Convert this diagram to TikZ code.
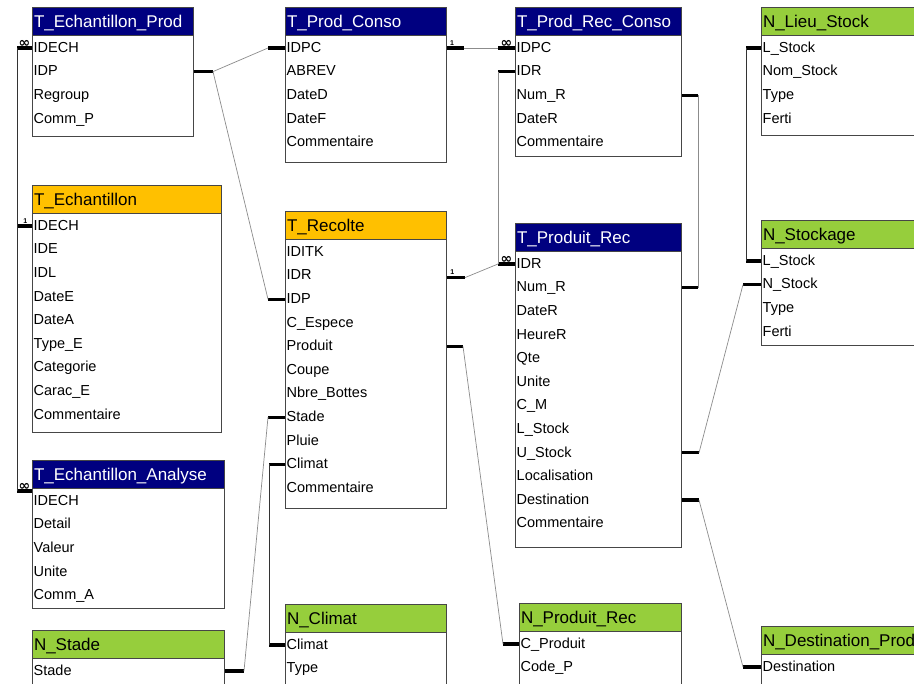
\documentclass[tikz,border=0pt]{standalone}
\usepackage{fontspec}
\setmainfont{Liberation Sans}
\newfontfamily\symbolfont{DejaVu Sans}
\usetikzlibrary{calc}
\definecolor{SchemaNavy}{RGB}{0,0,128}
\definecolor{SchemaGold}{RGB}{255,192,0}
\definecolor{SchemaLime}{RGB}{150,206,60}
\definecolor{SchemaBorder}{RGB}{70,70,70}
\definecolor{SchemaLink}{RGB}{140,140,140}

\begin{document}
\begin{tikzpicture}[x=1bp,y=-1bp,line join=miter]
  \path[use as bounding box] (0,0) rectangle (914,684);
  \clip (0,0) rectangle (914,684);
  \fill[white] (0,0) rectangle (914,684);

  \tikzset{
    tablebox/.style={draw=SchemaBorder,line width=1bp,fill=white,
      anchor=north west,inner sep=0pt},
    headbox/.style={draw=SchemaBorder,line width=1bp,anchor=north west,
      minimum height=28bp,inner xsep=1.5bp,inner ysep=0pt,align=left,
      text height=13bp,text depth=1bp,
      font=\fontsize{17bp}{17bp}\selectfont},
    field/.style={anchor=west,inner sep=0pt,text height=10.5bp,text depth=2bp,
      font=\fontsize{14.5bp}{14.5bp}\selectfont},
    stub/.style={line width=3.2bp,black,line cap=butt},
    link/.style={line width=0.7bp,SchemaLink},
    many/.style={anchor=base,inner sep=0pt,yshift=0.6bp,
      font=\symbolfont\bfseries\fontsize{14bp}{14bp}\selectfont},
    one/.style={anchor=base,inner sep=0pt,yshift=2.8bp,
      font=\bfseries\fontsize{7bp}{7bp}\selectfont},
  }

  % tables: name/x/y/width/height/header/header text/title/fields
  \foreach \tab/\x/\y/\w/\h/\hcol/\tcol/\title/\fields in {
    echprod/32/7/161/129/SchemaNavy/white/{T\_Echantillon\_Prod}/{IDECH,IDP,Regroup,Comm\_P},
    prodconso/285/7/161/155/SchemaNavy/white/{T\_Prod\_Conso}/{IDPC,ABREV,DateD,DateF,Commentaire},
    prodrecconso/515/7/166/149/SchemaNavy/white/{T\_Prod\_Rec\_Conso}/{IDPC,IDR,Num\_R,DateR,Commentaire},
    lieustock/761/7/170/128/SchemaLime/black/{N\_Lieu\_Stock}/{L\_Stock,Nom\_Stock,Type,Ferti},
    ech/32/185/189/247/SchemaGold/black/{T\_Echantillon}/{IDECH,IDE,IDL,DateE,DateA,Type\_E,Categorie,Carac\_E,Commentaire},
    recolte/285/211/161/297/SchemaGold/black/{T\_Recolte}/{IDITK,IDR,IDP,C\_Espece,Produit,Coupe,Nbre\_Bottes,Stade,Pluie,Climat,Commentaire},
    produitrec/515/223/166/324/SchemaNavy/white/{T\_Produit\_Rec}/{IDR,Num\_R,DateR,HeureR,Qte,Unite,C\_M,L\_Stock,U\_Stock,Localisation,Destination,Commentaire},
    stockage/761/220/170/125/SchemaLime/black/{N\_Stockage}/{L\_Stock,N\_Stock,Type,Ferti},
    echan/32/460/192/148/SchemaNavy/white/{T\_Echantillon\_Analyse}/{IDECH,Detail,Valeur,Unite,Comm\_A},
    stade/32/630/192/80/SchemaLime/black/{N\_Stade}/{Stade},
    climat/285/604/161/100/SchemaLime/black/{N\_Climat}/{Climat,Type},
    nproduitrec/519/603/162/100/SchemaLime/black/{N\_Produit\_Rec}/{C\_Produit,Code\_P},
    destination/761/626/170/80/SchemaLime/black/{N\_Destination\_Prod}/{Destination}} {
    \pgfmathsetmacro\tw{\w-3}
    \node[tablebox,minimum width=\w bp,minimum height=\h bp] (\tab) at (\x,\y) {};
    \node[headbox,fill=\hcol,text=\tcol,text width=\tw bp] (\tab-head)
      at (\tab.north west) {\title};
    \foreach \f [count=\i] in \fields {
      \pgfmathsetmacro\dy{12+(\i-1)*23.6}
      \node[field] (\tab-\i) at ([xshift=1.5bp,yshift=-\dy bp]\tab-head.south west) {\f};
    }
  }

  % IDECH
  \draw[stub] (echprod.west |- echprod-1) -- node[many] (echprod-1-m) {∞}
    ++(-15,0) coordinate (echprod-1-l);
  \draw[stub] (ech.west |- ech-1) -- node[one,pos=0.45] (ech-1-m) {1}
    ++(-15,0) coordinate (ech-1-l);
  \draw[stub] ($(echan.west |- echan-head.south)+(0,2)$) -- node[many] (echan-1-m) {∞}
    ++(-15,0) coordinate (echan-1-l);
  \draw[link,black!80] (ech-1-l) -- (echprod-1-l);
  \draw[link,black!80] (ech-1-l) -- (echan-1-l);

  % IDP
  \draw[stub] (echprod.east |- echprod-2) -- ++(19,0) coordinate (echprod-2-r);
  \draw[stub] (prodconso.west |- prodconso-1) -- ++(-17,0) coordinate (prodconso-1-l);
  \draw[stub] (recolte.west |- recolte-3) -- ++(-17,0) coordinate (recolte-3-l);
  \draw[link] (echprod-2-r) -- (prodconso-1-l);
  \draw[link] (echprod-2-r) -- (recolte-3-l);

  % IDPC
  \draw[stub] (prodconso.east |- prodconso-1) -- node[one,pos=0.3] (prodconso-1-m) {1}
    ++(17,0) coordinate (prodconso-1-r);
  \draw[stub] (prodrecconso.west |- prodrecconso-1) -- node[many] (prodrecconso-1-m) {∞}
    ++(-17,0) coordinate (prodrecconso-1-l);
  \draw[link] (prodconso-1-r) -- (prodrecconso-1-l);

  % IDR
  \draw[stub] (prodrecconso.west |- prodrecconso-2) -- ++(-17,0) coordinate (prodrecconso-2-l);
  \draw[stub] (produitrec.west |- produitrec-1) -- node[many] (produitrec-1-m) {∞}
    ++(-17,0) coordinate (produitrec-1-l);
  \draw[stub] ($(recolte.east |- recolte-2)+(0,2)$) -- node[one,pos=0.3] (recolte-2-m) {1}
    ++(18,0) coordinate (recolte-2-r);
  \draw[link] (prodrecconso-2-l) -- (produitrec-1-l);
  \draw[link] (recolte-2-r) -- (produitrec-1-l);

  % Num_R
  \draw[stub] (prodrecconso.east |- prodrecconso-3) -- ++(16,0) coordinate (prodrecconso-3-r);
  \draw[stub] (produitrec.east |- produitrec-2) -- ++(16,0) coordinate (produitrec-2-r);
  \draw[link] (prodrecconso-3-r) -- (produitrec-2-r);

  % L_Stock
  \draw[stub] (lieustock.west |- lieustock-1) -- ++(-15,0) coordinate (lieustock-1-l);
  \draw[stub] (stockage.west |- stockage-1) -- ++(-15,0) coordinate (stockage-1-l);
  \draw[link,black!80] (lieustock-1-l) -- (stockage-1-l);

  % N_Stock / U_Stock
  \draw[stub] (stockage.west |- stockage-2) -- ++(-18,0) coordinate (stockage-2-l);
  \draw[stub] (produitrec.east |- produitrec-9) -- ++(17,0) coordinate (produitrec-9-r);
  \draw[link] (produitrec-9-r) -- (stockage-2-l);

  % Destination
  \draw[stub] (produitrec.east |- produitrec-11) -- ++(17,0) coordinate (produitrec-11-r);
  \draw[stub] (destination.west |- destination-1) -- ++(-18,0) coordinate (destination-1-l);
  \draw[link] (produitrec-11-r) -- (destination-1-l);

  % Produit / C_Produit
  \draw[stub] (recolte.east |- recolte-5) -- ++(16,0) coordinate (recolte-5-r);
  \draw[stub] (nproduitrec.west |- nproduitrec-1) -- ++(-16,0) coordinate (nproduitrec-1-l);
  \draw[link] (recolte-5-r) -- (nproduitrec-1-l);

  % Stade
  \draw[stub] (recolte.west |- recolte-8) -- ++(-17,0) coordinate (recolte-8-l);
  \draw[stub] (stade.east |- stade-1) -- ++(19,0) coordinate (stade-1-r);
  \draw[link] (stade-1-r) -- (recolte-8-l);

  % Climat
  \draw[stub] (recolte.west |- recolte-10) -- ++(-16,0) coordinate (recolte-10-l);
  \draw[stub] (climat.west |- climat-1) -- ++(-16,0) coordinate (climat-1-l);
  \draw[link,black!80] (recolte-10-l) -- (climat-1-l);
\end{tikzpicture}
\end{document}
